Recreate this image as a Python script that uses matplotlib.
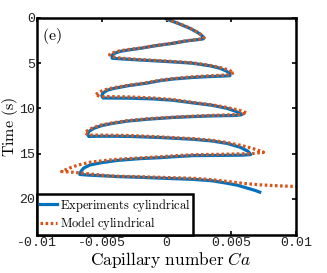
import matplotlib
matplotlib.use("Agg")
import matplotlib.pyplot as plt

plt.rcParams['mathtext.fontset'] = 'cm'
plt.rcParams['font.family'] = ['DejaVu Serif']

# Experiment (blue): capillary number vs time
exp_ca = [0.0, 0.0009, 0.0018, 0.0024, 0.0027, 0.0029,
          0.0028, 0.0015, 0.0005, -0.0010, -0.0020, -0.0030, -0.0036, -0.0040, -0.0042, -0.0042,
          -0.0035, -0.0020, -0.0005, 0.0010, 0.0020, 0.0034, 0.0041, 0.0046, 0.0049, 0.0049,
          0.0044, 0.0030, 0.0020, 0.0005, -0.0005, -0.0015, -0.0030, -0.0041, -0.0046, -0.0049, -0.0050, -0.0049,
          -0.0045, -0.0028, -0.0010, 0.0005, 0.0021, 0.0035, 0.0047, 0.0053, 0.0057, 0.0058,
          0.0053, 0.0035, 0.0021, 0.0005, -0.0005, -0.0015, -0.0030, -0.0041, -0.0050, -0.0056, -0.0060, -0.0061, -0.0060,
          -0.0054, -0.0040, -0.0028, -0.0005, 0.0021, 0.0035, 0.0047, 0.0057, 0.0063, 0.0065,
          0.0059, 0.0040, 0.0021, 0.0005, -0.0005, -0.0020, -0.0038, -0.0050, -0.0059, -0.0064, -0.0066, -0.0067,
          -0.0060, -0.0045, -0.0038, -0.0020, -0.0005, 0.0021, 0.0035, 0.00465, 0.0055, 0.0062, 0.0068, 0.0072]
exp_t = [0.12, 0.6, 1.14, 1.6, 1.9, 2.2,
         2.32, 2.55, 2.8, 3.1, 3.35, 3.55, 3.7, 3.9, 4.1, 4.45,
         4.52, 4.65, 4.77, 4.9, 5.0, 5.3, 5.55, 5.85, 6.15, 6.38,
         6.42, 6.5, 6.58, 6.75, 6.93, 7.2, 7.5, 7.8, 8.0, 8.3, 8.6, 8.85,
         8.85, 8.87, 8.95, 9.1, 9.4, 9.65, 10.0, 10.3, 10.55, 10.7,
         10.78, 10.83, 10.9, 11.0, 11.1, 11.2, 11.4, 11.64, 11.9, 12.2, 12.55, 12.85, 13.1,
         13.08, 13.08, 13.1, 13.22, 13.42, 13.6, 13.88, 14.3, 14.75, 15.1,
         15.17, 15.2, 15.22, 15.35, 15.45, 15.55, 15.75, 16.0, 16.25, 16.6, 16.95, 17.3,
         17.38, 17.48, 17.54, 17.62, 17.71, 17.85, 18.0, 18.27, 18.5, 18.8, 19.05, 19.26]

# Model (orange)
mod_ca = [0.0, 0.0009, 0.0018, 0.0024, 0.0027, 0.0029,
          0.0028, 0.0015, 0.0005, -0.0010, -0.0020, -0.0030, -0.0036, -0.0041, -0.0044,
          -0.0042, -0.0035, -0.0020, -0.0005, 0.0010, 0.0020, 0.0034, 0.0042, 0.0048, 0.0052,
          0.0047, 0.0030, 0.0020, 0.0005, -0.0005, -0.0015, -0.0030, -0.0041, -0.0048, -0.0052, -0.0055,
          -0.0051, -0.0028, -0.0010, 0.0005, 0.0021, 0.0035, 0.0047, 0.0056, 0.0062,
          0.0057, 0.0035, 0.0021, 0.0005, -0.0005, -0.0015, -0.0030, -0.0041, -0.0051, -0.0057, -0.0061, -0.0063,
          -0.0059, -0.0040, -0.0028, -0.0005, 0.0021, 0.0035, 0.0047, 0.0058, 0.0067, 0.0075,
          0.0066, 0.0040, 0.0021, 0.0005, -0.0005, -0.0020, -0.0038, -0.0050, -0.0059, -0.0068, -0.0075, -0.0081,
          -0.0071, -0.0059, -0.0045, -0.0038, -0.0020, -0.0005, 0.0021, 0.0035, 0.00465, 0.0060, 0.0072, 0.0085, 0.0100, 0.0106]
mod_t = [0.1, 0.58, 1.1, 1.58, 1.88, 2.2,
         2.3, 2.52, 2.78, 3.08, 3.32, 3.5, 3.63, 3.83, 4.05,
         4.28, 4.45, 4.6, 4.72, 4.85, 4.95, 5.25, 5.5, 5.75, 6.05,
         6.3, 6.42, 6.5, 6.7, 6.88, 7.15, 7.45, 7.72, 7.95, 8.2, 8.5,
         8.68, 8.73, 8.85, 9.02, 9.35, 9.6, 9.9, 10.2, 10.5,
         10.68, 10.77, 10.85, 10.97, 11.05, 11.15, 11.35, 11.58, 11.85, 12.15, 12.45, 12.74,
         12.95, 12.97, 13.0, 13.15, 13.35, 13.52, 13.78, 14.1, 14.45, 14.85,
         15.0, 15.08, 15.12, 15.25, 15.35, 15.47, 15.62, 15.8, 15.95, 16.25, 16.6, 16.98,
         17.07, 17.25, 17.45, 17.5, 17.56, 17.62, 17.73, 17.88, 18.07, 18.3, 18.45, 18.55, 18.64, 18.7]

x_ticks = [-0.01, -0.005, 0, 0.005, 0.01]
x_ticklabels = ['-0.01', '-0.005', '0', '0.005', '0.01']
y_ticks = [0, 5, 10, 15, 20]
y_ticklabels = ['0', '5', '10', '15', '20']

fig = plt.figure(figsize=(3.27, 2.73), dpi=100)
ax = fig.add_axes([37/327, 1 - 235/273, (296-37)/327, (235-18)/273])

ax.plot(exp_ca, exp_t, color='#0072BD', lw=2.3, solid_joinstyle='round',
        label=r'$\mathrm{Experiments\ cylindrical}$')
ax.plot(mod_ca, mod_t, color='#D95319', lw=2.3, linestyle=(0, (0.8, 0.8)),
        label=r'$\mathrm{Model\ cylindrical}$')

ax.set_xlim(-0.01, 0.01)
ax.set_ylim(24, 0)
ax.set_xticks(x_ticks)
ax.set_xticklabels(x_ticklabels, family='Liberation Mono', fontsize=9.5, color='#222222')
ax.set_yticks(y_ticks)
ax.set_yticklabels(y_ticklabels, family='Liberation Mono', fontsize=9.5, color='#222222')
ax.tick_params(direction='in', length=3, width=1.2, top=True, right=True, pad=1.5)
for s in ax.spines.values():
    s.set_linewidth(1.8)

ax.set_xlabel(r'$\mathrm{Capillary\ number}\ Ca$', fontsize=12.5)
ax.xaxis.set_label_coords(0.517, -0.068)
ax.set_ylabel(r'$\mathrm{Time\ (s)}$', fontsize=11.5)
ax.yaxis.set_label_coords(-0.066, 0.5)
ax.text(0.02, 0.965, r'$\mathrm{(e)}$', transform=ax.transAxes, fontsize=11.5,
        va='top', ha='left')

leg = ax.legend(loc='lower left', bbox_to_anchor=(0, 0), borderaxespad=0,
                prop={'size': 9}, frameon=True,
                fancybox=False, handlelength=1.4, handletextpad=0.25,
                borderpad=0.2, labelspacing=0.15)
leg.get_frame().set_edgecolor('black')
leg.get_frame().set_linewidth(1.8)
leg.get_frame().set_alpha(1)

fig.savefig('out.png', dpi=100)
